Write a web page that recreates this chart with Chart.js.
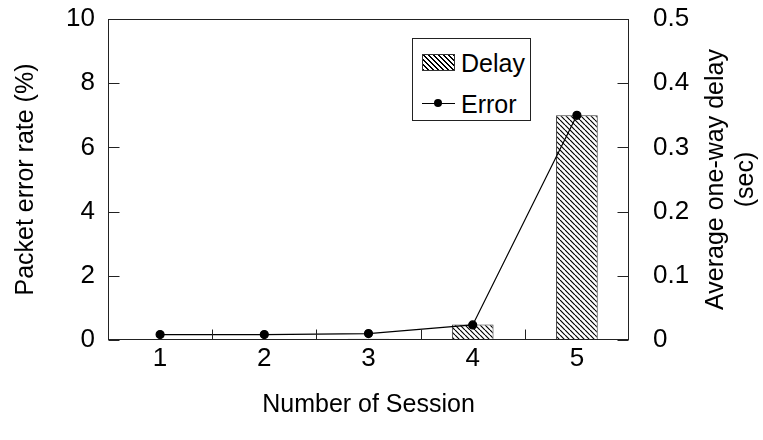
<!DOCTYPE html>
<html>
<head>
<meta charset="utf-8">
<script src="https://cdn.jsdelivr.net/npm/chart.js@4.4.1/dist/chart.umd.min.js"></script>
<style>
  html, body { margin: 0; padding: 0; background: #fff; }
  #wrap { position: relative; width: 763px; height: 440px; }
  #legend {
    position: absolute; left: 412px; top: 38px; width: 119px; height: 83px;
    border: 1px solid #222; background: #fff; box-sizing: border-box;
    font: 25px "Liberation Sans", Arial, sans-serif; color: #000;
  }
  .item { position: absolute; left: 0; width: 100%; height: 30px; }
  .item span { position: absolute; left: 48px; top: 0; line-height: 30px; }
  .swatch {
    position: absolute; left: 9px; top: 6px; width: 33px; height: 17px; box-sizing: border-box;
    border: 1px solid #333;
    background: repeating-linear-gradient(45deg, #000 0 1.2px, #fff 1.2px 3.5px);
  }
  .lineKey { position: absolute; left: 9px; top: 14px; width: 33px; border-top: 1px solid #000; }
  .dot { position: absolute; left: 12px; top: -5px; width: 8px; height: 8px; border-radius: 50%; background: #000; }
</style>
</head>
<body>
<div id="wrap">
  <canvas id="mainChart" width="763" height="440"></canvas>
  <div id="legend">
    <div class="item" style="top:9px"><div class="swatch"></div><span>Delay</span></div>
    <div class="item" style="top:50px"><div class="lineKey"><div class="dot"></div></div><span>Error</span></div>
  </div>
</div>
<script>
// sessions on the x axis
var sessions = ['1', '2', '3', '4', '5'];
// average one-way delay (sec), right axis
var delay = [0, 0, 0.002, 0.024, 0.35];
// packet error rate (%), left axis
var errorRate = [0.17, 0.17, 0.2, 0.47, 7.0];

var xTitle = 'Number of Session';
var leftTitle = 'Packet error rate (%)';
var rightTitle = ['Average one-way delay', '(sec)'];

var FONT = '"Liberation Sans", Arial, sans-serif';
Chart.defaults.font.family = FONT;
Chart.defaults.font.size = 26;
Chart.defaults.color = '#000';

function hatch() {
    var s = 5;
    var c = document.createElement('canvas');
    c.width = s; c.height = s;
    var g = c.getContext('2d');
    g.fillStyle = '#fff';
    g.fillRect(0, 0, s, s);
    g.strokeStyle = '#000';
    g.lineWidth = 1.2;
    g.beginPath();
    for (var k = -1; k <= 1; k++) {
        g.moveTo(k * s, 0);
        g.lineTo(k * s + s, s);
    }
    g.stroke();
    return g.createPattern(c, 'repeat');
}

// box around the plot, inward tick marks and the right-hand title
var frame = {
    id: 'frame',
    afterDraw: function(chart) {
        var ctx = chart.ctx;
        var a = chart.chartArea;
        var L = Math.round(a.left) + 0.5, R = Math.round(a.right) - 0.5;
        var T = Math.round(a.top) + 0.5, B = Math.round(a.bottom) - 0.5;
        ctx.save();
        ctx.strokeStyle = '#222';
        ctx.lineWidth = 1;
        ctx.strokeRect(L, T, R - L, B - T);
        ctx.beginPath();
        chart.scales.y.ticks.forEach(function(t) {
            var y = Math.round(chart.scales.y.getPixelForValue(t.value)) + 0.5;
            ctx.moveTo(L, y); ctx.lineTo(L + 11, y);
        });
        chart.scales.y1.ticks.forEach(function(t) {
            var y = Math.round(chart.scales.y1.getPixelForValue(t.value)) + 0.5;
            ctx.moveTo(R, y); ctx.lineTo(R - 11, y);
        });
        var xs = chart.scales.x;
        for (var i = 0; i < sessions.length - 1; i++) {
            var x = Math.round((xs.getPixelForValue(i) + xs.getPixelForValue(i + 1)) / 2) + 0.5;
            ctx.moveTo(x, B); ctx.lineTo(x, B - 10);
        }
        ctx.stroke();

        ctx.fillStyle = '#000';
        ctx.font = '25px ' + FONT;
        ctx.textAlign = 'center';
        ctx.textBaseline = 'middle';
        var cy = (a.top + a.bottom) / 2;
        var sr = chart.scales.y1.right;
        rightTitle.forEach(function(line, i) {
            ctx.save();
            ctx.translate(sr - 47 + i * 30, cy);
            ctx.rotate(-Math.PI / 2);
            ctx.fillText(line, 0, 0);
            ctx.restore();
        });
        ctx.restore();
    }
};

function noPad(s) {
    s.paddingTop = 0;
    s.paddingBottom = 0;
}

var ctx = document.getElementById('mainChart').getContext('2d');
var chart = new Chart(ctx, {
    type: 'bar',
    data: {
        labels: sessions,
        datasets: [{
            type: 'line',
            label: 'Error',
            data: errorRate,
            yAxisID: 'y',
            borderColor: '#000',
            borderWidth: 1.2,
            backgroundColor: '#000',
            pointRadius: 4,
            pointBackgroundColor: '#000',
            tension: 0,
            order: 0
        }, {
            label: 'Delay',
            data: delay,
            yAxisID: 'y1',
            backgroundColor: hatch(),
            borderColor: '#333',
            borderWidth: 1,
            barPercentage: 0.4,
            categoryPercentage: 1,
            order: 1
        }]
    },
    options: {
        responsive: false,
        animation: false,
        layout: { padding: { top: 19, left: 0, right: 0, bottom: 0 } },
        plugins: { legend: { display: false }, tooltip: { enabled: false } },
        scales: {
            x: {
                offset: true,
                grid: { display: false, drawTicks: false },
                border: { display: false },
                ticks: { padding: 3 },
                title: { display: true, text: xTitle, font: { size: 25 }, padding: { top: 0, bottom: 20 } },
                afterFit: function(s) { s.height = 100; s.paddingLeft = 0; s.paddingRight = 0; }
            },
            y: {
                position: 'left',
                min: 0, max: 10,
                grid: { display: false, drawTicks: false },
                border: { display: false },
                ticks: { stepSize: 2, padding: 13 },
                title: { display: true, text: leftTitle, font: { size: 25 }, padding: { top: 11, bottom: 0 } },
                afterFit: function(s) { s.width = 108; noPad(s); }
            },
            y1: {
                position: 'right',
                min: 0, max: 0.5,
                grid: { display: false, drawTicks: false },
                border: { display: false },
                ticks: { stepSize: 0.1, padding: 24 },
                afterFit: function(s) { s.width = 134; noPad(s); }
            }
        }
    },
    plugins: [frame]
});
</script>
</body>
</html>
